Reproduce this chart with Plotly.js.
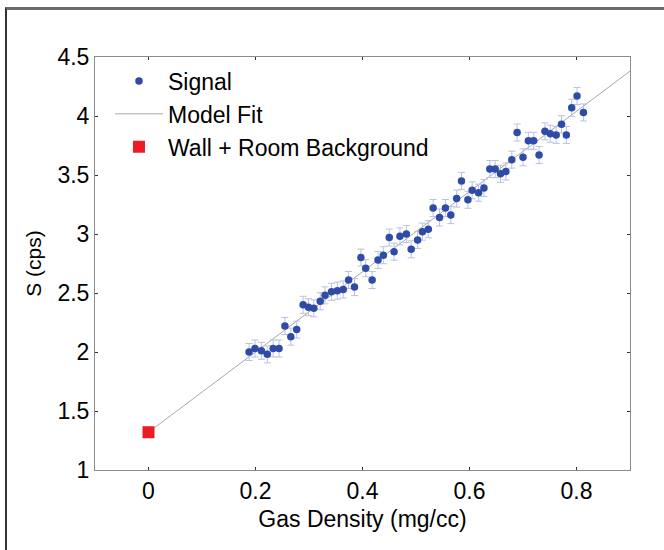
<!DOCTYPE html>
<html>
<head>
<meta charset="utf-8">
<script src="https://cdn.plot.ly/plotly-3.0.1.min.js"></script>
<style>
  html, body { margin: 0; padding: 0; background: #ffffff; }
  #wrap { position: relative; width: 664px; height: 550px; overflow: hidden; }
  #chart { position: absolute; left: 0; top: 0; width: 664px; height: 550px; }
  #frame { position: absolute; left: 5px; top: 7px; width: 700px; height: 600px;
           border-top: 3px solid #6b6b6b; border-left: 2px solid #333333;
           pointer-events: none; box-sizing: border-box; }
</style>
</head>
<body>
<div id="wrap">
  <div id="chart"></div>
  <div id="frame"></div>
</div>
<script>
// Signal measurements (gas density in mg/cc, signal in cps)
const sigX = [0.188,0.199,0.211,0.222,0.233,0.244,0.255,0.266,0.277,0.289,
              0.299,0.309,0.321,0.330,0.342,0.353,0.364,0.374,0.385,0.397,
              0.406,0.418,0.429,0.439,0.450,0.459,0.470,0.482,0.491,0.503,
              0.512,0.523,0.532,0.544,0.555,0.565,0.576,0.585,0.597,0.605,
              0.617,0.627,0.638,0.648,0.658,0.668,0.679,0.689,0.700,0.710,
              0.720,0.730,0.741,0.751,0.762,0.772,0.781,0.791,0.801,0.813];
const sigY = [2.00,2.03,2.01,1.98,2.03,2.03,2.22,2.13,2.19,2.40,
              2.38,2.37,2.43,2.48,2.51,2.52,2.53,2.61,2.55,2.80,
              2.71,2.61,2.78,2.82,2.97,2.85,2.98,3.00,2.87,2.95,
              3.02,3.04,3.22,3.14,3.22,3.16,3.30,3.45,3.29,3.37,
              3.35,3.39,3.55,3.55,3.51,3.53,3.63,3.86,3.65,3.79,
              3.79,3.67,3.87,3.85,3.84,3.93,3.84,4.07,4.17,4.03];
const sigErr = 0.072;

// Model fit line
const fitX = [0, 0.9];
const fitY = [1.32, 4.38];

// Wall + room background
const bgX = [0];
const bgY = [1.32];

// Tick labels
const xTickVals = [0, 0.2, 0.4, 0.6, 0.8];
const xTickText = ["0", "0.2", "0.4", "0.6", "0.8"];
const yTickVals = [1, 1.5, 2, 2.5, 3, 3.5, 4, 4.5];
const yTickText = ["1", "1.5", "2", "2.5", "3", "3.5", "4", "4.5"];

const FONT = "Liberation Sans, Arial, sans-serif";

const traces = [
  {
    x: fitX, y: fitY, type: "scatter", mode: "lines", name: "Model Fit",
    line: { color: "#a8a8a8", width: 1 }, legendrank: 2
  },
  {
    x: sigX, y: sigY, type: "scatter", mode: "markers", name: "Signal",
    marker: { color: "#2f4ba6", size: 7.5, symbol: "circle" },
    error_y: { type: "constant", value: sigErr, color: "#b9c0e2", thickness: 1, width: 3.5 },
    legendrank: 1
  },
  {
    x: bgX, y: bgY, type: "scatter", mode: "markers", name: "Wall + Room Background",
    marker: { color: "#ec1c24", size: 12, symbol: "square" },
    legendrank: 3
  }
];

const layout = {
  width: 664, height: 550,
  paper_bgcolor: "#ffffff", plot_bgcolor: "#ffffff",
  margin: { l: 95, r: 34, t: 57, b: 80, pad: 0 },
  font: { family: FONT, size: 23, color: "#000000" },
  showlegend: true,
  legend: {
    x: 0.028, y: 0.994, xanchor: "left", yanchor: "top",
    bgcolor: "rgba(0,0,0,0)", borderwidth: 0,
    font: { family: FONT, size: 23, color: "#000000" },
    itemwidth: 48, traceorder: "normal"
  },
  xaxis: {
    range: [-0.1, 0.9], tickmode: "array", tickvals: xTickVals, ticktext: xTickText,
    showgrid: false, zeroline: false,
    showline: true, linecolor: "#8c8c8c", linewidth: 1, mirror: "ticks",
    ticks: "inside", ticklen: 3, tickwidth: 1, tickcolor: "#333333",
    tickfont: { family: FONT, size: 23, color: "#000000" },
    title: { text: "Gas Density (mg/cc)", font: { family: FONT, size: 23, color: "#000000" }, standoff: 8 }
  },
  yaxis: {
    range: [1, 4.5], tickmode: "array", tickvals: yTickVals, ticktext: yTickText,
    showgrid: false, zeroline: false,
    showline: true, linecolor: "#8c8c8c", linewidth: 1, mirror: "ticks",
    ticks: "inside", ticklen: 3, tickwidth: 1, tickcolor: "#333333",
    tickfont: { family: FONT, size: 23, color: "#000000" },
    title: { text: "S (cps)", font: { family: FONT, size: 21, color: "#000000" }, standoff: 10 }
  }
};

Plotly.newPlot("chart", traces, layout, { staticPlot: true, displayModeBar: false });
</script>
</body>
</html>
